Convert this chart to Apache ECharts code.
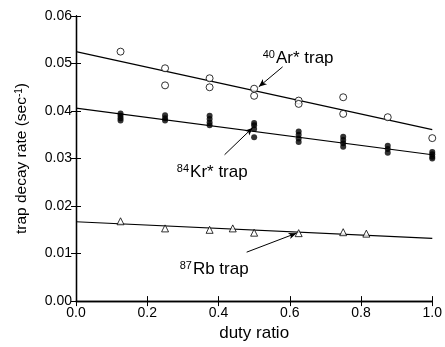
<!DOCTYPE html>
<html>
<head>
<meta charset="utf-8">
<script src="https://cdn.jsdelivr.net/npm/echarts@6/dist/echarts.min.js"></script>
<style>
  html, body { margin: 0; padding: 0; background: #fff; }
  #chart { width: 445px; height: 347px; }
</style>
</head>
<body>
<div id="chart"></div>
<script>
// duty ratio axis ticks / values
const xTicks = [0, 0.2, 0.4, 0.6, 0.8, 1.0];

// 40Ar* trap, open circles
const arPoints = [
  [0.125, 0.0525],
  [0.25, 0.0490], [0.25, 0.0454],
  [0.375, 0.0469], [0.375, 0.0450],
  [0.5, 0.0447], [0.5, 0.0432],
  [0.625, 0.0422], [0.625, 0.0415],
  [0.75, 0.0429], [0.75, 0.0394],
  [0.875, 0.0387],
  [1.0, 0.0343]
];
// 84Kr* trap, filled circles
const krPoints = [
  [0.125, 0.0395], [0.125, 0.0390], [0.125, 0.0385], [0.125, 0.0380],
  [0.25, 0.0391], [0.25, 0.0385], [0.25, 0.0380],
  [0.375, 0.0390], [0.375, 0.0383], [0.375, 0.0376], [0.375, 0.0370],
  [0.5, 0.0375], [0.5, 0.0370], [0.5, 0.0362], [0.5, 0.0345],
  [0.625, 0.0357], [0.625, 0.0350], [0.625, 0.0342], [0.625, 0.0335],
  [0.75, 0.0346], [0.75, 0.0339], [0.75, 0.0332], [0.75, 0.0325],
  [0.875, 0.0327], [0.875, 0.0320], [0.875, 0.0312],
  [1.0, 0.0314], [1.0, 0.0309], [1.0, 0.0304], [1.0, 0.0300]
];
// 87Rb trap, open triangles
const rbPoints = [
  [0.125, 0.0168], [0.25, 0.0153], [0.375, 0.0150], [0.44, 0.0153],
  [0.5, 0.0144], [0.625, 0.0143], [0.75, 0.0145], [0.815, 0.0142]
];

// fitted lines, value at duty ratio 0 and 1
const arFit = [[0, 0.0525], [1, 0.0361]];
const krFit = [[0, 0.0406], [1, 0.0308]];
const rbFit = [[0, 0.0167], [1, 0.0132]];

// annotation arrows [from, to] and labels in data coords
const arArrow = [[0.58, 0.0493], [0.513, 0.0451]];
const krArrow = [[0.417, 0.0308], [0.496, 0.0365]];
const rbArrow = [[0.479, 0.0103], [0.619, 0.0143]];
const labels = [
  { iso: '40', name: 'Ar* trap', at: [0.524, 0.0512] },
  { iso: '84', name: 'Kr* trap', at: [0.283, 0.0272] },
  { iso: '87', name: 'Rb trap', at: [0.291, 0.0067] }
];

const FONT = '"Liberation Sans", Arial, sans-serif';
const chart = echarts.init(document.getElementById('chart'));

const frameAxis = {
  type: 'value', min: 0, max: 1, interval: 0.2,
  axisLine: { show: true, lineStyle: { color: '#000', width: 1.3 } },
  axisTick: { show: true, inside: true, length: 5, lineStyle: { color: '#000' } },
  splitLine: { show: false }
};
const frameYAxis = {
  type: 'value', min: 0, max: 0.06, interval: 0.01,
  axisLine: { show: true, lineStyle: { color: '#000', width: 1.3 } },
  axisTick: { show: true, inside: true, length: 5, lineStyle: { color: '#000' } },
  splitLine: { show: false }
};

function arrowLine(pair) {
  return [{ coord: pair[0], symbol: 'none' }, { coord: pair[1], symbol: 'arrow', symbolSize: [5, 8] }];
}

const options = {
  animation: false,
  grid: { left: 76, right: 12, top: 16, bottom: 45 },
  xAxis: [
    Object.assign({}, frameAxis, {
      position: 'bottom',
      axisLabel: { color: '#000', fontSize: 14, fontFamily: FONT, margin: 5,
        formatter: v => v.toFixed(1) },
      name: 'duty ratio', nameLocation: 'middle', nameGap: 21,
      nameTextStyle: { color: '#000', fontSize: 17, fontFamily: FONT }
    }),
    Object.assign({}, frameAxis, { position: 'top', axisLabel: { show: false } })
  ],
  yAxis: [
    Object.assign({}, frameYAxis, {
      position: 'left',
      axisLabel: { color: '#000', fontSize: 14, fontFamily: FONT, margin: 4,
        formatter: v => v.toFixed(2) },
      name: 'trap decay rate (sec{s|-1})', nameLocation: 'middle', nameGap: 46,
      nameTextStyle: { color: '#000', fontSize: 15.5, fontFamily: FONT,
        rich: { s: { fontSize: 10, verticalAlign: 'top', color: '#000', fontFamily: FONT } } }
    }),
    Object.assign({}, frameYAxis, { position: 'right', axisLabel: { show: false } })
  ],
  series: [
    { type: 'line', data: arFit, symbol: 'none', lineStyle: { color: '#000', width: 1.2 }, z: 2 },
    { type: 'line', data: krFit, symbol: 'none', lineStyle: { color: '#000', width: 1.2 }, z: 2 },
    { type: 'line', data: rbFit, symbol: 'none', lineStyle: { color: '#000', width: 1.2 }, z: 2,
      markLine: {
        silent: true, animation: false, label: { show: false },
        lineStyle: { color: '#000', width: 1, type: 'solid' },
        data: [arrowLine(arArrow), arrowLine(krArrow), arrowLine(rbArrow)]
      } },
    { type: 'scatter', data: arPoints, symbol: 'circle', symbolSize: 7,
      itemStyle: { color: '#fff', borderColor: '#000', borderWidth: 1 }, z: 3 },
    { type: 'scatter', data: krPoints, symbol: 'circle', symbolSize: 6,
      itemStyle: { color: '#000' }, z: 3 },
    { type: 'scatter', data: rbPoints, symbol: 'triangle', symbolSize: 7,
      itemStyle: { color: '#fff', borderColor: '#000', borderWidth: 1 }, z: 3 }
  ]
};
chart.setOption(options);

// annotation texts placed through the chart's own coordinate conversion
const graphics = labels.map(l => {
  const p = chart.convertToPixel({ xAxisIndex: 0, yAxisIndex: 0 }, l.at);
  return {
    type: 'text', x: p[0], y: p[1], z: 10,
    style: {
      text: '{s|' + l.iso + '}{m|' + l.name + '}',
      verticalAlign: 'middle',
      rich: {
        s: { fontSize: 11, fontFamily: FONT, fill: '#000', verticalAlign: 'top', padding: [0, 1, 6, 0] },
        m: { fontSize: 17, fontFamily: FONT, fill: '#000' }
      }
    }
  };
});
chart.setOption({ graphic: graphics });
</script>
</body>
</html>
